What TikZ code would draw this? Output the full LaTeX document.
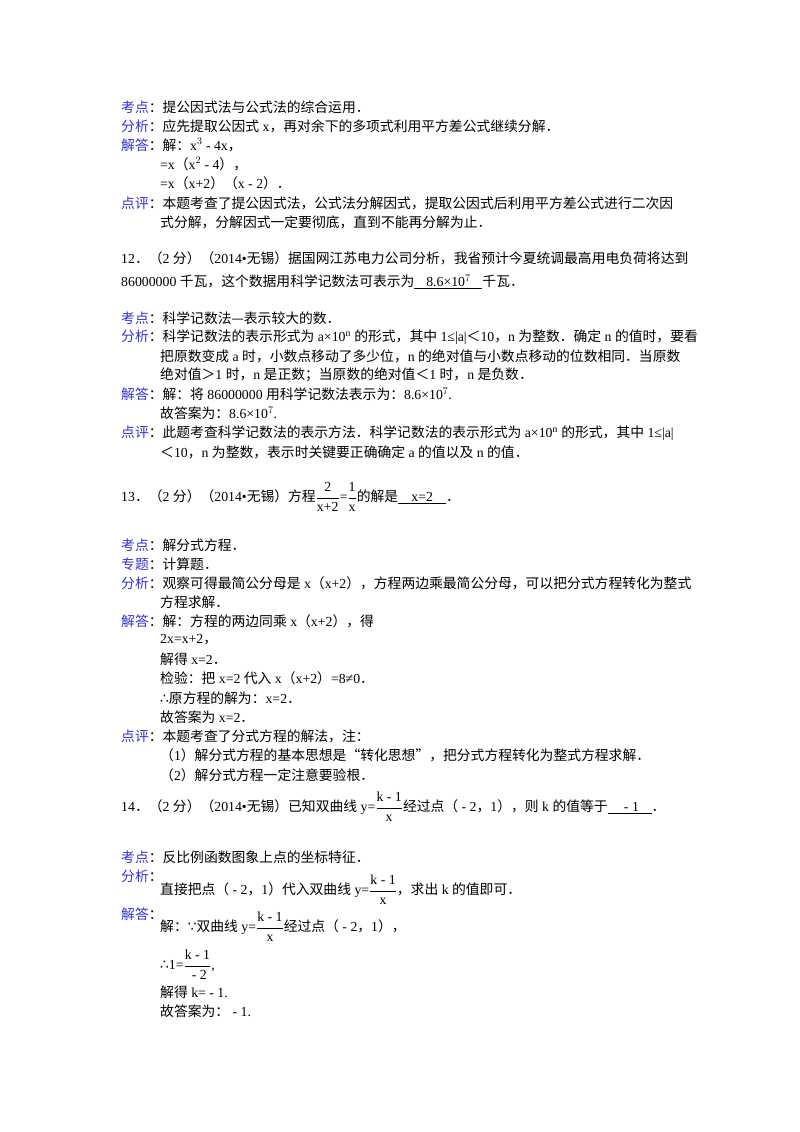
\documentclass[tikz,border=0pt]{standalone}
\usepackage{amsmath}
\usepackage{fontspec}
\setmainfont{Liberation Serif}
\newfontfamily\cjk{Noto Sans CJK SC}
\newfontfamily\djsym{DejaVu Sans}
\definecolor{lab}{RGB}{50,50,215}
\newcommand{\lb}[1]{{\color{lab}\cjk #1}}
\newcommand{\zh}[1]{{\cjk #1}}
\newcommand{\fr}[2]{$\dfrac{\text{#1}}{\text{#2}}$}
\begin{document}
\begin{tikzpicture}[x=1pt,y=-1pt,every node/.style={anchor=west,inner sep=0pt,font=\fontsize{13.8}{14}\selectfont}]
\useasboundingbox (0,0) rectangle (800,1132);
\fill[white] (0,0) rectangle (800,1132);
% block 11
\node (a1) at (121,107) {\lb{考点}\zh{：提公因式法与公式法的综合运用．}};
\node (a2) at (121,126) {\lb{分析}\zh{：应先提取公因式} x\zh{，再对余下的多项式利用平方差公式继续分解．}};
\node (a3) at (121,145) {\lb{解答}\zh{：解：}x$^3$ - 4x\zh{，}};
\node (a4) at (160,164) {=x\zh{（}x$^2$ - 4\zh{），}};
\node (a5) at (160,183) {=x\zh{（}x+2\zh{）（}x - 2\zh{）．}};
\node (a6) at (121,203) {\lb{点评}\zh{：本题考查了提公因式法，公式法分解因式，提取公因式后利用平方差公式进行二次因}};
\node (a7) at (160,222) {\zh{式分解，分解因式一定要彻底，直到不能再分解为止．}};
% 12
\node (b1) at (121,258) {12\zh{．（}2 \zh{分）（}2014•\zh{无锡）据国网江苏电力公司分析，我省预计今夏统调最高用电负荷将达到}};
\node (b2) at (121,282) {86000000 \zh{千瓦，这个数据用科学记数法可表示为}\underline{\makebox[68pt]{8.6×10$^7$}}\zh{千瓦．}};
\node (c1) at (121,318) {\lb{考点}\zh{：科学记数法—表示较大的数．}};
\node (c2) at (121,337) {\lb{分析}\zh{：科学记数法的表示形式为} a×10$^{\text{n}}$ \zh{的形式，其中} 1≤|a|\zh{＜}10\zh{，}n \zh{为整数．确定} n \zh{的值时，要看}};
\node (c3) at (160,356) {\zh{把原数变成} a \zh{时，小数点移动了多少位，}n \zh{的绝对值与小数点移动的位数相同．当原数}};
\node (c4) at (160,375) {\zh{绝对值＞}1 \zh{时，}n \zh{是正数；当原数的绝对值＜}1 \zh{时，}n \zh{是负数．}};
\node (c5) at (121,394) {\lb{解答}\zh{：解：将} 86000000 \zh{用科学记数法表示为：}8.6×10$^7$.};
\node (c6) at (160,413) {\zh{故答案为：}8.6×10$^7$.};
\node (c7) at (121,433) {\lb{点评}\zh{：此题考查科学记数法的表示方法．科学记数法的表示形式为} a×10$^{\text{n}}$ \zh{的形式，其中} 1≤|a|};
\node (c8) at (160,452) {\zh{＜}10\zh{，}n \zh{为整数，表示时关键要正确确定} a \zh{的值以及} n \zh{的值．}};
% 13
\node (d1) at (121,497) {13\zh{．（}2 \zh{分）（}2014•\zh{无锡）方程}\fr{2}{x+2}=\fr{1}{x}\zh{的解是}\underline{\makebox[48pt]{x=2}}\zh{．}};
\node (e1) at (121,545) {\lb{考点}\zh{：解分式方程．}};
\node (e2) at (121,564) {\lb{专题}\zh{：计算题．}};
\node (e3) at (121,583) {\lb{分析}\zh{：观察可得最简公分母是} x\zh{（}x+2\zh{），方程两边乘最简公分母，可以把分式方程转化为整式}};
\node (e4) at (160,602) {\zh{方程求解．}};
\node (e5) at (121,621) {\lb{解答}\zh{：解：方程的两边同乘} x\zh{（}x+2\zh{），得}};
\node (e6) at (160,640) {2x=x+2\zh{，}};
\node (e7) at (160,659) {\zh{解得} x=2\zh{．}};
\node (e8) at (160,678) {\zh{检验：把} x=2 \zh{代入} x\zh{（}x+2\zh{）}=8≠0\zh{．}};
\node (e9) at (160,698) {{\djsym ∴}\zh{原方程的解为：}x=2\zh{．}};
\node (e10) at (160,717) {\zh{故答案为} x=2\zh{．}};
\node (e11) at (121,736) {\lb{点评}\zh{：本题考查了分式方程的解法，注：}};
\node (e12) at (160,755) {\zh{（}1\zh{）解分式方程的基本思想是“转化思想”，把分式方程转化为整式方程求解．}};
\node (e13) at (160,775) {\zh{（}2\zh{）解分式方程一定注意要验根．}};
% 14
\node (f1) at (121,807) {14\zh{．（}2 \zh{分）（}2014•\zh{无锡）已知双曲线} y=\fr{k - 1}{x}\zh{经过点（} - 2\zh{，}1\zh{），则} k \zh{的值等于}\underline{\makebox[44pt]{ - 1}}\zh{．}};
\node (g1) at (121,857) {\lb{考点}\zh{：反比例函数图象上点的坐标特征．}};
\node (g2) at (121,876) {\lb{分析}\zh{：}};
\node (g3) at (160,890) {\zh{直接把点（} - 2\zh{，}1\zh{）代入双曲线} y=\fr{k - 1}{x}\zh{，求出} k \zh{的值即可．}};
\node (g4) at (121,914) {\lb{解答}\zh{：}};
\node (g5) at (160,927) {\zh{解：}{\djsym ∵}\zh{双曲线} y=\fr{k - 1}{x}\zh{经过点（} - 2\zh{，}1\zh{），}};
\node (g6) at (160,965) {{\djsym ∴}1=\fr{k - 1}{ - 2},};
\node (g7) at (160,992) {\zh{解得} k= - 1.};
\node (g8) at (160,1011) {\zh{故答案为：} - 1.};
\end{tikzpicture}
\end{document}
